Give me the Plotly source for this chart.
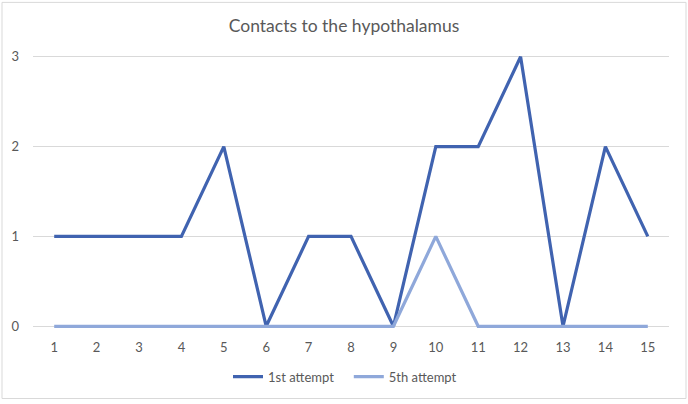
import plotly.graph_objects as go

categories = [str(i) for i in range(1, 16)]
first_attempt = [1, 1, 1, 1, 2, 0, 1, 1, 0, 2, 2, 3, 0, 2, 1]
fifth_attempt = [0, 0, 0, 0, 0, 0, 0, 0, 0, 1, 0, 0, 0, 0, 0]
y_ticks = [0, 1, 2, 3]
series_names = ["1st attempt\u00a0\u00a0\u00a0", "5th attempt"]

W, H = 688, 404
ml, mr, mt, mb = 33, 19, 54, 73
pw, ph = W - ml - mr, H - mt - mb

fig = go.Figure()
fig.add_trace(go.Scatter(x=categories, y=first_attempt, mode="lines", name=series_names[0],
                         line=dict(color="#4063B0", width=3.2)))
fig.add_trace(go.Scatter(x=categories, y=fifth_attempt, mode="lines", name=series_names[1],
                         line=dict(color="#8FA8DA", width=3.2)))

def px2x(px):
    return (px - ml) / pw

def px2y(py):
    return (H - mb - py) / ph

fig.update_layout(
    width=W, height=H,
    margin=dict(l=ml, r=mr, t=mt, b=mb),
    paper_bgcolor="white", plot_bgcolor="white",
    font=dict(family="Lato, Carlito, sans-serif", color="#595959", size=13),
    title=dict(text="Contacts to the hypothalamus", x=0.5, xref="container", xanchor="center",
               y=1 - 26 / H, yanchor="middle", font=dict(size=17.5, color="#595959")),
    xaxis=dict(type="category", range=[-0.5, 14.5], showgrid=False, zeroline=False,
               showline=False, ticks="", ticklabelstandoff=9, tickfont=dict(size=13),
               fixedrange=True),
    yaxis=dict(range=[-0.03, 3.03], tickvals=y_ticks, showgrid=True, gridcolor="#D9D9D9",
               gridwidth=1, zeroline=False, showline=False, ticks="",
               ticklabelstandoff=13, tickfont=dict(size=13), fixedrange=True),
    legend=dict(orientation="h", x=px2x(228), xanchor="left", y=px2y(379), yanchor="middle",
                font=dict(size=13, color="#595959"), itemwidth=30),
    showlegend=True,
    shapes=[dict(type="rect", xref="paper", yref="paper",
                 x0=px2x(2), x1=px2x(686), y0=px2y(401), y1=px2y(2),
                 line=dict(color="#D9D9D9", width=1), layer="below")],
)

fig.write_html("out.html", config={"displayModeBar": False},
               post_script="document.body.style.margin='0';")
